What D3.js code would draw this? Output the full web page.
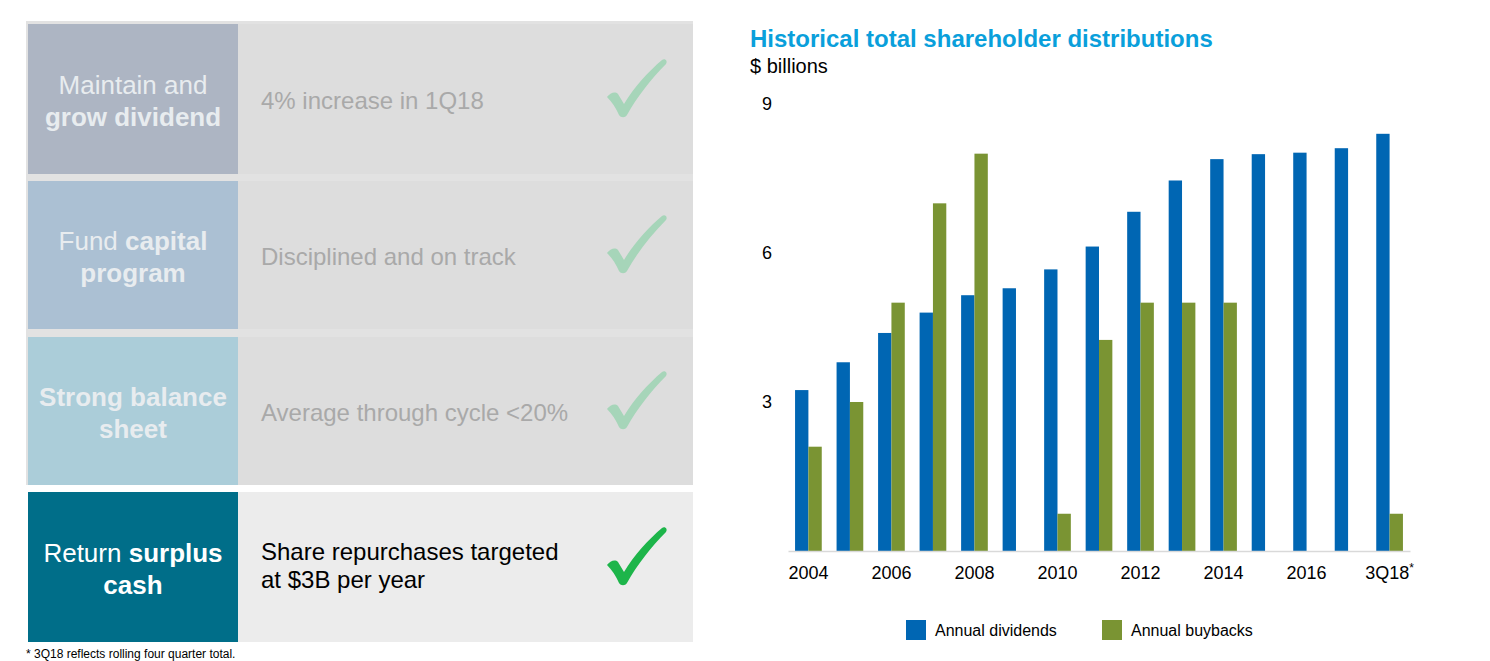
<!DOCTYPE html>
<html>
<head>
<meta charset="utf-8">
<script src="https://cdn.jsdelivr.net/npm/d3@7/dist/d3.min.js"></script>
<style>
  html, body { margin: 0; padding: 0; background: #ffffff; }
  svg { display: block; font-family: Arial, "Liberation Sans", sans-serif; }
</style>
</head>
<body>
<svg id="chart" width="1490" height="661"></svg>
<script>
// ---------- data ----------
const categories = ["2004","2005","2006","2007","2008","2009","2010","2011","2012","2013","2014","2015","2016","2017","3Q18"];
const dividends  = [3.24, 3.80, 4.39, 4.80, 5.15, 5.29, 5.67, 6.13, 6.83, 7.46, 7.89, 7.99, 8.02, 8.11, 8.40];
const buybacks   = [2.10, 3.00, 5.00, 7.00, 8.00, 0,    0.75, 4.25, 5.00, 5.00, 5.00, 0,    0,    0,    0.75];
const tickLabels = ["2004","2006","2008","2010","2012","2014","2016","3Q18"];
const yTicks     = [3, 6, 9];
const seriesNames = ["Annual dividends", "Annual buybacks"];
const seriesColors = ["#0066b3", "#7a9433"];

const panelRows = [
  { left: [[["Maintain and", false]], [["grow dividend", true]]],
    right: ["4% increase in 1Q18"], active: false, fill: "#adb5c3" },
  { left: [[["Fund ", false], ["capital", true]], [["program", true]]],
    right: ["Disciplined and on track"], active: false, fill: "#abc0d3" },
  { left: [[["Strong balance", true]], [["sheet", true]]],
    right: ["Average through cycle <20%"], active: false, fill: "#abcdd9" },
  { left: [[["Return ", false], ["surplus", true]], [["cash", true]]],
    right: ["Share repurchases targeted", "at $3B per year"], active: true, fill: "#006e89" }
];
const footnote = "* 3Q18 reflects rolling four quarter total.";

// ---------- left panel ----------
const svg = d3.select("#chart");
const rowTops = [24, 181, 337, 492];
const rowHeights = [150, 148, 148, 150];

// faded backdrop of the completed rows
svg.append("rect").attr("x", 26).attr("y", 21).attr("width", 667).attr("height", 464).attr("fill", "#e2e2e2");

const checkPath = "M0,38 C3,34 8,32 11,35 L17,45 C27,28 42,12 55,1 C58,-1 61,2 59,5 C44,20 30,38 20,56 C18,59 14,59 12,56 C9,49 5,43 0,38 Z";

panelRows.forEach((r, i) => {
  const top = rowTops[i];
  const h = rowHeights[i];
  const c = top + h / 2;
  const g = svg.append("g");
  g.append("rect").attr("x", 238).attr("y", top).attr("width", 455).attr("height", h)
    .attr("fill", r.active ? "#ececec" : "#dddddd");
  g.append("rect").attr("x", 28).attr("y", top).attr("width", 210).attr("height", h)
    .attr("fill", r.fill);
  const lt = g.append("text").attr("text-anchor", "middle").attr("font-size", 26)
    .attr("fill", r.active ? "#ffffff" : "#e8ecef");
  r.left.forEach((line, li) => {
    const t = lt.append("tspan").attr("x", 133).attr("y", c - 5 + li * 32);
    line.forEach(([s, b]) => {
      t.append("tspan").attr("font-weight", b ? "bold" : "normal").text(s);
    });
  });
  const rt = g.append("text").attr("font-size", 24).attr("fill", r.active ? "#000000" : "#a9a9a9");
  if (r.right.length === 1) {
    rt.append("tspan").attr("x", 261).attr("y", c + 10).text(r.right[0]);
  } else {
    r.right.forEach((s, li) => rt.append("tspan").attr("x", 261).attr("y", c - 7 + li * 28).text(s));
  }
  g.append("path").attr("d", checkPath)
    .attr("transform", `translate(607,${c - 40})`)
    .attr("fill", r.active ? "#1db54a" : "#a6d5b9");
});

svg.append("text").attr("x", 26).attr("y", 658).attr("font-size", 12).attr("fill", "#000")
  .text(footnote);

// ---------- chart ----------
svg.append("text").attr("x", 750).attr("y", 47).attr("font-size", 24).attr("font-weight", "bold")
  .attr("fill", "#0a9fdb").text("Historical total shareholder distributions");
svg.append("text").attr("x", 750).attr("y", 73).attr("font-size", 20).attr("fill", "#000")
  .text("$ billions");

const x = d3.scaleBand().domain(categories).range([788, 1410]).paddingInner(0.357).paddingOuter(0.17);
const xs = d3.scaleBand().domain([0, 1]).range([0, x.bandwidth()]);
const y = d3.scaleLinear().domain([0, 9]).range([551, 104]);

const groups = svg.append("g").selectAll("g").data(categories).join("g")
  .attr("transform", d => `translate(${x(d)},0)`);
[dividends, buybacks].forEach((vals, si) => {
  groups.append("rect")
    .filter((d) => vals[categories.indexOf(d)] > 0)
    .attr("x", xs(si)).attr("width", xs.bandwidth())
    .attr("y", (d) => y(vals[categories.indexOf(d)]))
    .attr("height", (d) => y(0) - y(vals[categories.indexOf(d)]))
    .attr("fill", seriesColors[si]);
});

const xAxis = svg.append("g").attr("transform", "translate(0,551)")
  .call(d3.axisBottom(x).tickSize(0).tickPadding(15)
    .tickFormat(d => tickLabels.includes(d) ? d : ""));
xAxis.select(".domain").attr("stroke", "#d9d9d9").attr("stroke-width", 1.5);
xAxis.selectAll("text").attr("font-size", 18).attr("fill", "#000").attr("font-family", "Arial, 'Liberation Sans', sans-serif");
xAxis.selectAll(".tick").filter(d => d === "3Q18").select("text")
  .append("tspan").attr("font-size", 12).attr("dy", "-0.6em").text("*");

const yAxis = svg.append("g").attr("transform", "translate(772,0)")
  .call(d3.axisLeft(y).tickValues(yTicks).tickSize(0).tickPadding(0));
yAxis.select(".domain").remove();
yAxis.selectAll("text").attr("font-size", 18).attr("fill", "#000").attr("font-family", "Arial, 'Liberation Sans', sans-serif");

// legend
const legendX = [906, 1102];
seriesNames.forEach((n, i) => {
  svg.append("rect").attr("x", legendX[i]).attr("y", 620).attr("width", 20).attr("height", 20)
    .attr("fill", seriesColors[i]);
  svg.append("text").attr("x", legendX[i] + 29).attr("y", 636).attr("font-size", 16).attr("fill", "#000").text(n);
});
</script>
</body>
</html>
